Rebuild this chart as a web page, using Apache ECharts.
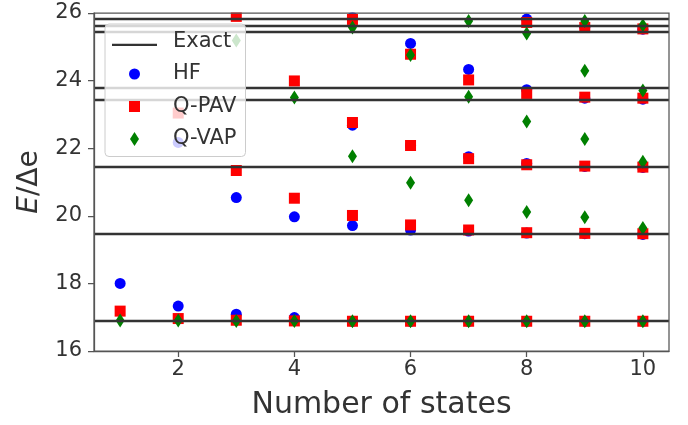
<!DOCTYPE html>
<html>
<head>
<meta charset="utf-8">
<script src="https://cdn.jsdelivr.net/npm/echarts@6/dist/echarts.min.js"></script>
<style>
html,body{margin:0;padding:0;background:#fff;}
#chart{width:688px;height:425px;}
</style>
</head>
<body>
<div id="chart"></div>
<script>
// Number of states (x categories)
const states = [1, 2, 3, 4, 5, 6, 7, 8, 9, 10];
// Exact energies (horizontal reference lines)
const exactLevels = [16.885, 19.47, 21.44, 23.43, 23.78, 25.44, 25.62, 25.82];
// HF energies for each number of states (visible ones, E/Δe)
const hfValues = [
  [18.00],
  [17.33, 22.17],
  [17.09, 20.54],
  [16.99, 19.97],
  [16.88, 19.71, 22.68, 25.87],
  [16.88, 19.58, 22.08, 25.10],
  [16.88, 19.55, 21.75, 24.33],
  [16.88, 19.49, 21.55, 23.73, 25.82],
  [16.88, 19.47, 21.46, 23.48, 25.58],
  [16.88, 19.45, 21.43, 23.45, 25.52]
];
// Q-PAV energies
const qpavValues = [
  [17.18],
  [16.96, 23.04],
  [16.91, 21.34, 25.90],
  [16.89, 20.52, 23.99],
  [16.88, 20.01, 22.76, 25.81],
  [16.88, 19.73, 22.08, 24.78],
  [16.88, 19.58, 21.69, 24.02],
  [16.88, 19.50, 21.51, 23.62, 25.72],
  [16.88, 19.48, 21.47, 23.51, 25.57],
  [16.88, 19.47, 21.44, 23.48, 25.53]
];
// Q-VAP energies
const qvapValues = [
  [16.90],
  [16.90],
  [16.89, 25.19],
  [16.89, 23.50],
  [16.88, 21.76, 25.57],
  [16.88, 20.98, 24.76],
  [16.88, 20.46, 23.52, 25.76],
  [16.88, 20.11, 22.79, 25.39],
  [16.88, 19.96, 22.27, 24.29, 25.76],
  [16.88, 19.64, 21.60, 23.71, 25.64]
];
const xTicks = [2, 4, 6, 8, 10];
const yTicks = [16, 18, 20, 22, 24, 26];

function pairs(vals) {
  const out = [];
  states.forEach((n, i) => vals[i].forEach(v => out.push([n, v])));
  return out;
}

const FONT = 'DejaVu Sans';
const TXT = '#333333';
const AX = '#555555';
const GRID = {left: 94, top: 13, width: 575, height: 339};

const chart = echarts.init(document.getElementById('chart'), null, {renderer: 'canvas'});
chart.setOption({
  animation: false,
  backgroundColor: '#ffffff',
  textStyle: {fontFamily: FONT},
  grid: Object.assign({show: true, borderColor: AX, borderWidth: 1.25, backgroundColor: 'transparent', containLabel: false, z: 6}, GRID),
  xAxis: {
    type: 'value', min: 0.55, max: 10.45, z: 6,
    name: 'Number of states', nameLocation: 'middle', nameGap: 39,
    nameTextStyle: {fontSize: 30, color: TXT, fontFamily: FONT},
    axisLine: {show: true, onZero: false, lineStyle: {color: AX, width: 1.25}},
    axisTick: {show: true, inside: false, length: 6, customValues: xTicks, lineStyle: {color: AX, width: 1.25}},
    axisLabel: {customValues: xTicks, fontSize: 21, color: TXT, margin: 8, fontFamily: FONT},
    splitLine: {show: false}
  },
  yAxis: {
    type: 'value', min: yTicks[0], max: yTicks[yTicks.length - 1], interval: 2, z: 6,
    name: '{i|E}/Δe', nameLocation: 'middle', nameGap: 50, nameRotate: 90,
    nameTextStyle: {fontSize: 28, color: TXT, fontFamily: FONT,
      rich: {i: {fontStyle: 'italic', fontSize: 28, color: TXT, fontFamily: FONT}}},
    axisLine: {show: true, onZero: false, lineStyle: {color: AX, width: 1.25}},
    axisTick: {show: true, inside: false, length: 6, lineStyle: {color: AX, width: 1.25}},
    axisLabel: {fontSize: 21, color: TXT, margin: 12, fontFamily: FONT},
    splitLine: {show: false}
  },
  graphic: [{
    // mask so that markers are clipped at the top of the plot frame
    type: 'rect', z: 5, silent: true,
    shape: {x: GRID.left + 0.7, y: 0, width: GRID.width - 1.4, height: GRID.top - 0.6},
    style: {fill: '#ffffff'}
  }],
  legend: {
    orient: 'vertical', left: 105, top: 24, z: 20,
    padding: [7, 9, 7, 7], itemGap: 11.5, itemWidth: 45, itemHeight: 14,
    backgroundColor: 'rgba(255,255,255,0.8)', borderColor: '#cccccc', borderWidth: 1, borderRadius: 4,
    textStyle: {fontSize: 21, color: TXT, fontFamily: FONT, lineHeight: 20, padding: [0, 0, 0, 11]},
    selectedMode: false,
    data: [
      {name: 'Exact', icon: 'path://M0,0M0,6.6H45V8.8H0Z', itemStyle: {color: '#333333'}},
      {name: 'HF', icon: 'path://M0,0M14,14M1.5,7A5.5,5.5,0,1,1,12.5,7A5.5,5.5,0,1,1,1.5,7Z'},
      {name: 'Q-PAV', icon: 'path://M0,0M14,14M1.5,1.5H12.5V12.5H1.5Z'},
      {name: 'Q-VAP', icon: 'path://M4.5,0L9,7L4.5,14L0,7Z'}
    ]
  },
  series: [
    {
      name: 'Exact', type: 'line', data: [], symbol: 'none', z: 1,
      lineStyle: {color: '#333333', width: 2.4}, itemStyle: {color: '#333333'},
      markLine: {
        silent: true, symbol: ['none', 'none'], animation: false,
        label: {show: false},
        lineStyle: {color: '#333333', width: 2.4, type: 'solid'},
        emphasis: {disabled: true},
        data: exactLevels.map(v => ({yAxis: v}))
      }
    },
    {name: 'HF', type: 'scatter', z: 2, symbol: 'circle', symbolSize: 11,
      itemStyle: {color: '#0000ff', opacity: 1}, data: pairs(hfValues)},
    {name: 'Q-PAV', type: 'scatter', z: 3, symbol: 'rect', symbolSize: 11,
      itemStyle: {color: '#ff0000', opacity: 1}, data: pairs(qpavValues)},
    {name: 'Q-VAP', type: 'scatter', z: 4, symbol: 'diamond', symbolSize: [9, 14],
      itemStyle: {color: '#008000', opacity: 1}, data: pairs(qvapValues)}
  ]
});
</script>
</body>
</html>
